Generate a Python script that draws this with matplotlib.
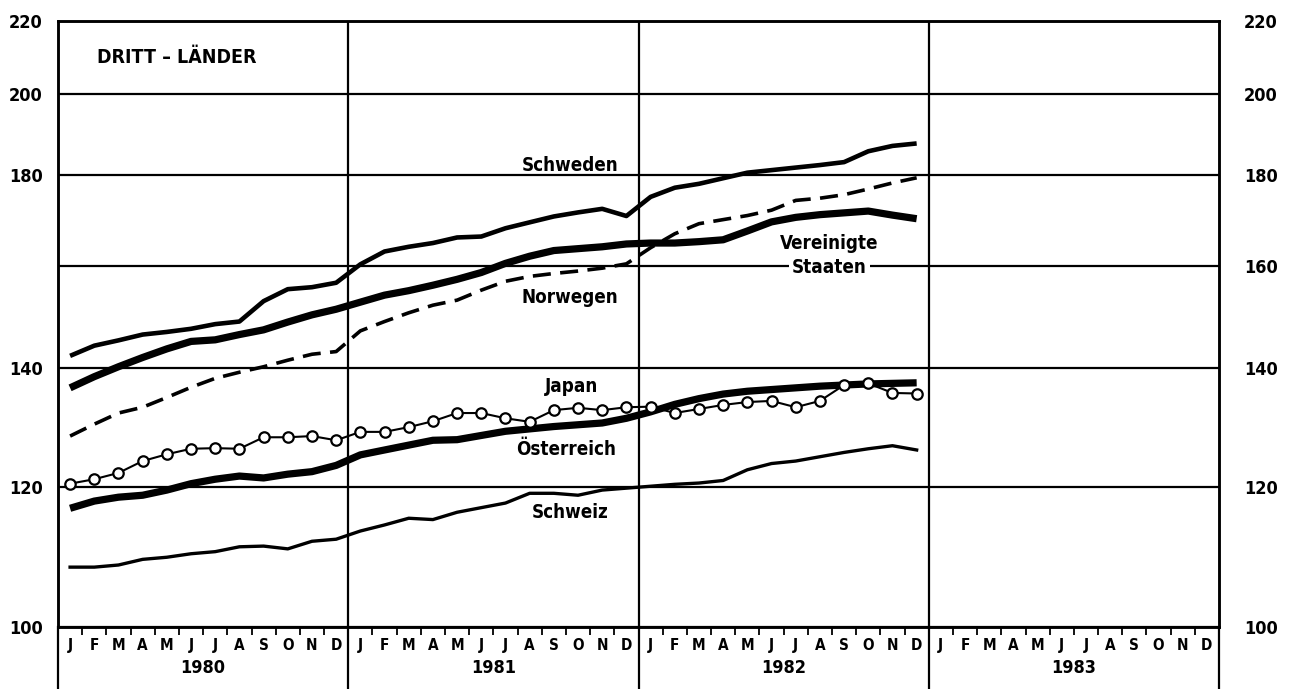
import numpy as np
import matplotlib.pyplot as plt
from matplotlib.ticker import FixedLocator, FixedFormatter, NullLocator

FONT = ['DejaVu Sans']
STRETCH = 'condensed'

# Monatswerte Jan 1980 - Dez 1982 (Index, log. Skala)
months = list("JFMAMJJASOND")
years = ['1980', '1981', '1982', '1983']

schweden = [142.3, 144.2, 145.2, 146.3, 146.8, 147.4, 148.3, 148.8, 152.8, 155.2, 155.6, 156.5,
            160.3, 163.0, 164.0, 164.8, 166.0, 166.2, 168.0, 169.3, 170.6, 171.5, 172.3, 170.7,
            175.0, 177.1, 178.0, 179.3, 180.6, 181.2, 181.8, 182.4, 183.1, 185.7, 187.0, 187.6]
usa = [136.5, 138.5, 140.3, 142.0, 143.6, 145.0, 145.3, 146.3, 147.2, 148.7, 150.1, 151.2,
       152.6, 154.0, 154.9, 156.0, 157.2, 158.6, 160.5, 162.0, 163.2, 163.6, 164.0, 164.6,
       164.8, 164.8, 165.1, 165.5, 167.4, 169.4, 170.4, 171.0, 171.4, 171.8, 170.9, 170.1]
norwegen = [128.2, 130.2, 132.1, 133.1, 134.8, 136.6, 138.2, 139.3, 140.3, 141.5, 142.6, 143.1,
            147.0, 148.8, 150.5, 152.0, 153.0, 155.0, 156.8, 157.8, 158.4, 158.9, 159.5, 160.4,
            163.8, 166.8, 169.0, 169.9, 170.8, 172.0, 174.2, 174.7, 175.5, 176.8, 178.2, 179.4]
japan = [120.5, 121.2, 122.2, 124.1, 125.2, 126.1, 126.2, 126.1, 128.0, 128.0, 128.2, 127.5,
         128.9, 128.9, 129.7, 130.7, 132.1, 132.1, 131.2, 130.6, 132.6, 133.0, 132.6, 133.1,
         133.2, 132.1, 132.8, 133.5, 134.0, 134.2, 133.1, 134.2, 137.0, 137.3, 135.6, 135.5]
oesterreich = [116.7, 117.8, 118.4, 118.7, 119.5, 120.5, 121.2, 121.7, 121.4, 122.0, 122.4, 123.4,
               125.1, 125.9, 126.7, 127.5, 127.6, 128.3, 129.0, 129.4, 129.8, 130.1, 130.4, 131.2,
               132.3, 133.6, 134.6, 135.4, 135.9, 136.2, 136.5, 136.8, 137.0, 137.2, 137.3, 137.4]
schweiz = [108.1, 108.1, 108.4, 109.2, 109.5, 110.0, 110.3, 111.0, 111.1, 110.7, 111.8, 112.1,
           113.3, 114.2, 115.2, 115.0, 116.1, 116.8, 117.5, 119.0, 119.0, 118.7, 119.5, 119.8,
           120.1, 120.4, 120.6, 121.0, 122.7, 123.7, 124.1, 124.8, 125.5, 126.1, 126.6, 125.9]

yticks_left = [100, 120, 140, 180, 200, 220]
yticks_right = [100, 120, 140, 160, 180, 200, 220]

x = np.arange(len(schweden)) + 0.5

fig = plt.figure(figsize=(12.9, 6.89), dpi=100)
ax = fig.add_axes([58 / 1290, 62 / 689, 1161 / 1290, 606 / 689])
ax.set_yscale('log')
ax.set_ylim(100, 220)
ax.set_xlim(0, 48)

# Gitter
for v in yticks_right:
    ax.axhline(v, color='black', lw=1.6, zorder=1)
for k in [12, 24, 36]:
    ax.axvline(k, color='black', lw=1.6, zorder=1)

ax.plot(x, schweden, color='black', lw=3.3, solid_capstyle='butt', zorder=3)
ax.plot(x, usa, color='black', lw=5.2, solid_capstyle='butt', zorder=3)
ax.plot(x, norwegen, color='black', lw=2.6, dashes=(5, 2.6), zorder=3)
ax.plot(x, oesterreich, color='black', lw=5.2, solid_capstyle='butt', zorder=3)
ax.plot(x, japan, color='black', lw=1.5, marker='o', ms=7.5, mfc='white', mec='black',
        mew=1.6, zorder=4)
ax.plot(x, schweiz, color='black', lw=2.4, zorder=3)

lab = dict(family=FONT, stretch=STRETCH, weight='bold', fontsize=13.5, ha='center',
           va='center', zorder=5)
ax.text(21.17, 182.4, 'Schweden', **lab)
ax.text(31.9, 164.8, 'Vereinigte', **lab)
ax.text(31.9, 159.7, 'Staaten', bbox=dict(fc='white', ec='none', pad=2), **lab)
ax.text(21.17, 153.6, 'Norwegen', **lab)
ax.text(21.25, 136.7, 'Japan', **lab)
ax.text(21.0, 125.9, 'Österreich', **lab)
ax.text(21.17, 116.0, 'Schweiz', **lab)
ax.text(1.6, 209.9, 'DRITT – LÄNDER', family=FONT, stretch=STRETCH, weight='bold',
        fontsize=14, ha='left', va='center')

# y-Achsen links und rechts
ax.yaxis.set_major_locator(FixedLocator(yticks_left))
ax.yaxis.set_major_formatter(FixedFormatter([str(v) for v in yticks_left]))
ax.yaxis.set_minor_locator(NullLocator())
ax.tick_params(axis='y', length=0, pad=11)
for t in ax.get_yticklabels():
    t.set_family(FONT)
    t.set_stretch(STRETCH)
    t.set_weight('bold')
    t.set_fontsize(13)

ax2 = ax.twinx()
ax2.set_yscale('log')
ax2.set_ylim(100, 220)
ax2.yaxis.set_major_locator(FixedLocator(yticks_right))
ax2.yaxis.set_major_formatter(FixedFormatter([str(v) for v in yticks_right]))
ax2.yaxis.set_minor_locator(NullLocator())
ax2.tick_params(axis='y', length=0, pad=18)
for t in ax2.get_yticklabels():
    t.set_family(FONT)
    t.set_stretch(STRETCH)
    t.set_weight('bold')
    t.set_fontsize(13)

for a in (ax, ax2):
    for s in a.spines.values():
        s.set_linewidth(1.8)

# x-Achse: Monatsstriche, Monats- und Jahresbeschriftung
ax.set_xticks([k for k in range(1, 48) if k % 12])
ax.set_xticklabels([])
ax.tick_params(axis='x', direction='out', length=6, width=1.3)
tr = ax.get_xaxis_transform()
for i in range(48):
    ax.text(i + 0.5, -0.03, months[i % 12], transform=tr, family=FONT, stretch=STRETCH,
            weight='bold', fontsize=11, ha='center', va='center')
for j, yr in enumerate(years):
    ax.text(12 * j + 6, -0.068, yr, transform=tr, family=FONT, stretch=STRETCH,
            weight='bold', fontsize=13, ha='center', va='center')
for k in [0, 12, 24, 36, 48]:
    ax.plot([k, k], [0, -0.105], transform=tr, color='black', lw=1.6, clip_on=False)

fig.savefig('out.png', dpi=100)
